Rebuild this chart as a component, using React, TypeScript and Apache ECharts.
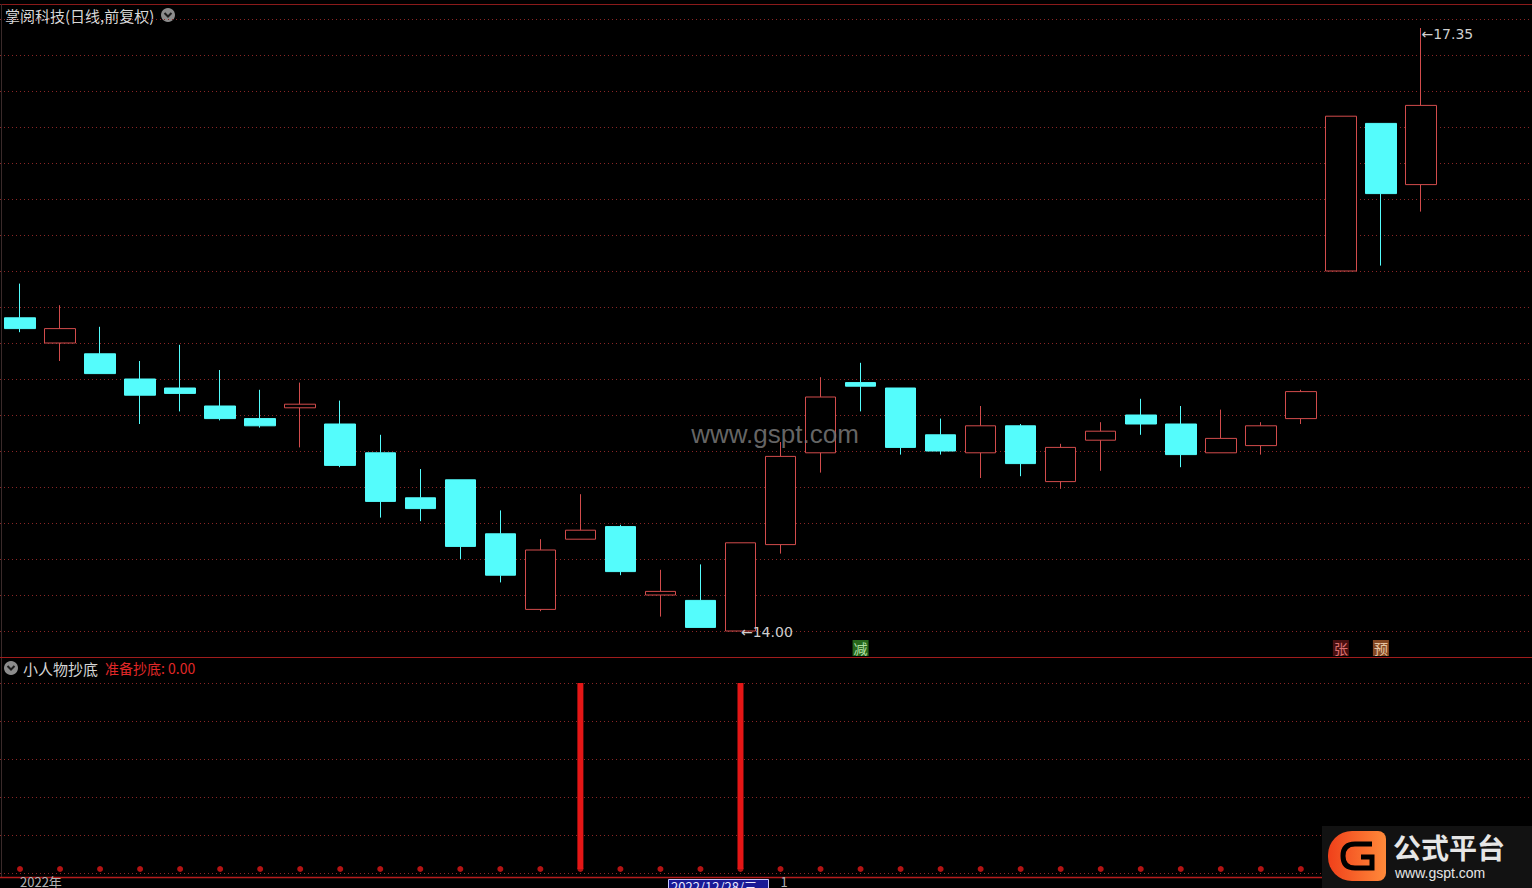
import React, { useEffect, useRef } from "react";
import * as echarts from "echarts";

// ---------- data ----------
const dates = [
  "2022/12/02", "2022/12/05", "2022/12/06", "2022/12/07", "2022/12/08", "2022/12/09",
  "2022/12/12", "2022/12/13", "2022/12/14", "2022/12/15", "2022/12/16", "2022/12/19",
  "2022/12/20", "2022/12/21", "2022/12/22", "2022/12/23", "2022/12/26", "2022/12/27",
  "2022/12/28", "2022/12/29", "2022/12/30", "2023/01/03", "2023/01/04", "2023/01/05",
  "2023/01/06", "2023/01/09", "2023/01/10", "2023/01/11", "2023/01/12", "2023/01/13",
  "2023/01/16", "2023/01/17", "2023/01/18", "2023/01/19", "2023/01/20", "2023/01/30",
];
const opens = [
  15.74, 15.6, 15.54, 15.4, 15.35, 15.25, 15.18, 15.24, 15.15, 14.99, 14.74, 14.84,
  14.54, 14.12, 14.51, 14.58, 14.2, 14.17, 14.0, 14.48, 14.99, 15.38, 15.35, 15.09,
  14.99, 15.14, 14.83, 15.06, 15.2, 15.15, 14.99, 15.03, 15.18, 16.0, 16.82, 16.48,
];
const closes = [
  15.68, 15.68, 15.43, 15.31, 15.32, 15.18, 15.14, 15.26, 14.92, 14.72, 14.68, 14.47,
  14.31, 14.45, 14.56, 14.33, 14.22, 14.02, 14.49, 14.97, 15.3, 15.36, 15.02, 15.0,
  15.14, 14.93, 15.02, 15.11, 15.15, 14.98, 15.07, 15.14, 15.33, 16.86, 16.43, 16.92,
];
const lows = [
  15.66, 15.5, 15.43, 15.15, 15.22, 15.17, 15.13, 15.02, 14.91, 14.63, 14.61, 14.4,
  14.27, 14.11, 14.51, 14.31, 14.08, 14.02, 14.0, 14.43, 14.88, 15.22, 14.98, 14.98,
  14.85, 14.86, 14.79, 14.89, 15.09, 14.91, 14.99, 14.98, 15.15, 16.0, 16.03, 16.33,
];
const highs = [
  15.93, 15.81, 15.69, 15.5, 15.59, 15.45, 15.34, 15.38, 15.28, 15.09, 14.9, 14.84,
  14.67, 14.51, 14.76, 14.59, 14.34, 14.37, 14.49, 15.05, 15.41, 15.49, 15.35, 15.18,
  15.25, 15.15, 15.04, 15.16, 15.29, 15.25, 15.23, 15.16, 15.34, 16.86, 16.82, 17.35,
];
// 小人物抄底 signal bars
const signal = [
  0, 0, 0, 0, 0, 0, 0, 0, 0, 0, 0, 0, 0, 0, 1, 0, 0, 0, 1, 0, 0, 0, 0, 0,
  0, 0, 0, 0, 0, 0, 0, 0, 0, 0, 0, 0,
];
// 准备抄底 line (0.00)
const ready = [
  0, 0, 0, 0, 0, 0, 0, 0, 0, 0, 0, 0, 0, 0, 0, 0, 0, 0, 0, 0, 0, 0, 0, 0,
  0, 0, 0, 0, 0, 0, 0, 0, 0, 0, 0, 0,
];
const noteIdx = [35, 18];
const noteVal = [17.35, 14.0];
const badgeIdx = [21, 33, 34];
const badgeText = ["减", "张", "预"];
const tickIdx = [0, 19];
const tickText = ["2022年", "1"];

// ---------- styles ----------
const badgeStyles = [
  { bg: "#2f7f22", fg: "#d6ffcc" },
  { bg: "#5c1414", fg: "#ff8c8c" },
  { bg: "#a65a2a", fg: "#ffe6c6" },
];
const noteOffsets = [
  [0, 6],
  [0, 1],
];
const FONT = "'Noto Sans CJK SC', 'Liberation Sans', sans-serif";
const RED_UP = "#d24c4c";
const CYAN = "#54fcfc";
const GRID_LINE = "#8a2626";

echarts.graphic.registerShape(
  "gLogo",
  echarts.graphic.extendPath(
    "M 44 13 L 27 13 Q 15 13 15 25 Q 15 37 27 37 L 44 37 L 44 26 L 33 26",
    {}
  )
);

export default function App() {
  const ref = useRef<HTMLDivElement>(null);

  useEffect(() => {
    const chart = echarts.init(ref.current!, null, { renderer: "svg" });
    const cats = [...dates, "", " "];
    const candleData = dates.map((_, i) => [opens[i], closes[i], lows[i], highs[i]]);
    const tickMap: Record<number, string> = {};
    tickIdx.forEach((idx, k) => (tickMap[idx] = tickText[k]));

    const mainTop = 19;
    const mainH = 612;
    const subTop = 683;
    const subH = 190;
    const splitStyle = { color: GRID_LINE, type: [1, 3], width: 1 };

    const option: any = {
      animation: false,
      backgroundColor: "#000000",
      textStyle: { fontFamily: FONT },
      grid: [
        { left: 0, right: 0, top: mainTop, height: mainH },
        { left: -3, right: 11, top: mainTop, height: mainH },
        { left: -3, right: 11, top: 640, height: 16 },
        { left: 0, right: 0, top: subTop, height: subH },
        { left: -3, right: 11, top: subTop, height: subH },
      ],
      xAxis: [
        { gridIndex: 0, type: "value", min: 0, max: 1, show: false },
        { gridIndex: 1, type: "category", data: cats, show: false },
        { gridIndex: 2, type: "category", data: cats, show: false },
        { gridIndex: 3, type: "value", min: 0, max: 1, show: false },
        {
          gridIndex: 4,
          type: "category",
          data: cats,
          axisLine: { show: false },
          axisTick: { show: false },
          splitLine: { show: false },
          axisLabel: {
            interval: 0,
            margin: 6,
            align: "left",
            color: "#b4b4b4",
            fontSize: 13,
            fontFamily: FONT,
            formatter: (_v: string, i: number) => tickMap[i] ?? "",
          },
        },
      ],
      yAxis: [
        {
          gridIndex: 0,
          type: "value",
          min: 14,
          max: 17.4,
          interval: 0.2,
          axisLine: { show: false },
          axisTick: { show: false },
          axisLabel: { show: false },
          splitLine: { show: true, lineStyle: splitStyle },
        },
        { gridIndex: 1, type: "value", min: 14, max: 17.4, show: false },
        { gridIndex: 2, type: "value", min: 0, max: 1, show: false },
        {
          gridIndex: 3,
          type: "value",
          min: 0,
          max: 1,
          interval: 0.2,
          axisLine: { show: false },
          axisTick: { show: false },
          axisLabel: { show: false },
          splitLine: { show: true, lineStyle: splitStyle },
        },
        { gridIndex: 4, type: "value", min: 0, max: 1, show: false },
      ],
      series: [
        {
          type: "candlestick",
          xAxisIndex: 1,
          yAxisIndex: 1,
          data: candleData,
          barWidth: 31,
          itemStyle: {
            color: "#000000",
            color0: CYAN,
            borderColor: RED_UP,
            borderColor0: CYAN,
            borderWidth: 1,
          },
          markPoint: {
            symbol: "circle",
            symbolSize: 1,
            itemStyle: { color: "rgba(0,0,0,0)" },
            label: {
              show: true,
              position: "right",
              distance: 0,
              color: "#cfcfcf",
              fontSize: 14,
              fontFamily: "'DejaVu Sans', 'Liberation Sans', sans-serif",
              formatter: (p: any) => "←" + Number(p.value).toFixed(2),
            },
            data: noteIdx.map((idx, k) => ({
              coord: [cats[idx], noteVal[k]],
              value: noteVal[k],
              label: { offset: noteOffsets[k] },
            })),
          },
        },
        {
          type: "scatter",
          xAxisIndex: 2,
          yAxisIndex: 2,
          symbol: "rect",
          symbolSize: [16, 16],
          data: badgeIdx.map((idx, k) => ({
            value: [cats[idx], 0.5],
            itemStyle: { color: badgeStyles[k].bg },
            label: {
              show: true,
              position: "inside",
              formatter: badgeText[k],
              color: badgeStyles[k].fg,
              fontSize: 14,
              fontFamily: FONT,
            },
          })),
        },
        {
          type: "scatter",
          xAxisIndex: 4,
          yAxisIndex: 4,
          data: ready,
          symbolSize: 6,
          itemStyle: { color: "#e01818" },
          z: 2,
        },
        {
          type: "bar",
          xAxisIndex: 4,
          yAxisIndex: 4,
          data: signal,
          barWidth: 6,
          itemStyle: { color: "#e41616" },
          z: 3,
        },
      ],
      graphic: [
        // frame lines
        { type: "line", shape: { x1: 0, y1: 4.5, x2: 1532, y2: 4.5 }, style: { stroke: "#8a1a1a", lineWidth: 1 } },
        { type: "line", shape: { x1: 1.5, y1: 4, x2: 1.5, y2: 877 }, style: { stroke: "#3a2a2a", lineWidth: 1 } },
        { type: "line", shape: { x1: 0, y1: 657.5, x2: 1532, y2: 657.5 }, style: { stroke: "#a01c1c", lineWidth: 1 } },
        { type: "line", shape: { x1: 0, y1: 877.5, x2: 1532, y2: 877.5 }, style: { stroke: "#b41c1c", lineWidth: 1.5 } },
        // title
        {
          type: "text",
          x: 5,
          y: 15,
          style: { text: "掌阅科技(日线,前复权)", fill: "#d8d8d8", fontSize: 15, fontFamily: FONT, verticalAlign: "middle" },
        },
        { type: "circle", shape: { cx: 168, cy: 15, r: 7 }, style: { fill: "#8c8c8c" } },
        {
          type: "polyline",
          shape: { points: [[164.5, 13], [168, 16.5], [171.5, 13]] },
          style: { stroke: "#1c1c1c", lineWidth: 2, fill: "none" },
        },
        // sub panel title
        { type: "circle", shape: { cx: 11, cy: 668, r: 7 }, style: { fill: "#8c8c8c" } },
        {
          type: "polyline",
          shape: { points: [[7.5, 666], [11, 669.5], [14.5, 666]] },
          style: { stroke: "#1c1c1c", lineWidth: 2, fill: "none" },
        },
        {
          type: "text",
          x: 23,
          y: 668,
          style: { text: "小人物抄底", fill: "#d4d4d4", fontSize: 15, fontFamily: FONT, verticalAlign: "middle" },
        },
        {
          type: "text",
          x: 105,
          y: 668,
          style: { text: "准备抄底: 0.00", fill: "#e02828", fontSize: 14, fontFamily: FONT, verticalAlign: "middle" },
        },
        // watermark (on top of the candles)
        {
          type: "text",
          x: 775,
          y: 434,
          z: 100,
          style: {
            text: "www.gspt.com",
            fill: "rgba(120,120,120,0.85)",
            fontSize: 26,
            fontFamily: "'Liberation Sans', sans-serif",
            align: "center",
            verticalAlign: "middle",
          },
        },
        // date box
        {
          type: "rect",
          shape: { x: 668.5, y: 879.5, width: 100, height: 16 },
          style: { fill: "#1a1a96", stroke: "#c8c8ff", lineWidth: 1 },
        },
        {
          type: "text",
          x: 671,
          y: 880,
          style: { text: "2022/12/28/三", fill: "#e8e8ff", fontSize: 13, fontFamily: FONT, verticalAlign: "top" },
        },
        // logo
        { type: "rect", z: 100, shape: { x: 1322, y: 826, width: 210, height: 62 }, style: { fill: "#121212" } },
        {
          type: "rect",
          z: 101,
          shape: { x: 1328, y: 831, width: 58, height: 50, r: [24, 8, 8, 24] },
          style: {
            fill: new echarts.graphic.LinearGradient(0, 0, 1, 0, [
              { offset: 0, color: "#f0401a" },
              { offset: 1, color: "#ff8a3a" },
            ]),
          },
        },
        {
          type: "gLogo",
          z: 102,
          x: 1328,
          y: 831,
          style: { fill: "none", stroke: "#000000", lineWidth: 5 },
        },
        {
          type: "text",
          z: 101,
          x: 1393,
          y: 832,
          style: {
            text: "公式平台",
            fill: "#e6e6e6",
            fontSize: 28,
            fontWeight: "bold",
            fontFamily: FONT,
            verticalAlign: "top",
            lineHeight: 30,
          },
        },
        {
          type: "text",
          z: 101,
          x: 1395,
          y: 865,
          style: {
            text: "www.gspt.com",
            fill: "#e6e6e6",
            fontSize: 14,
            fontFamily: "'Liberation Sans', sans-serif",
            verticalAlign: "top",
            lineHeight: 16,
          },
        },
      ],
    };

    chart.setOption(option);
    return () => chart.dispose();
  }, []);

  return (
    <div
      ref={ref}
      style={{ position: "fixed", left: 0, top: 0, width: 1532, height: 888, background: "#000" }}
    />
  );
}
